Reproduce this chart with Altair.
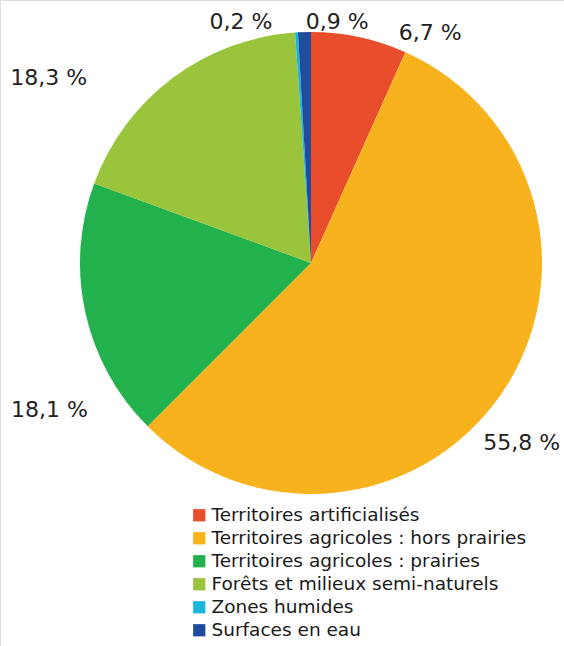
import math
import altair as alt
import pandas as pd

categories = [
    "Territoires artificialisés",
    "Territoires agricoles : hors prairies",
    "Territoires agricoles : prairies",
    "Forêts et milieux semi-naturels",
    "Zones humides",
    "Surfaces en eau",
]
shares = [6.7, 55.8, 18.1, 18.3, 0.2, 0.9]
labels = ["6,7 %", "55,8 %", "18,1 %", "18,3 %", "0,2 %", "0,9 %"]
colors = ["#E84E2C", "#F8B21E", "#22B14C", "#9AC43C", "#1DB6D9", "#1F4C9C"]

# label layout (polar, around pie centre): angle in degrees, distance in px
label_angle_deg = [27.4, 130.5, 240.7, 305.2, 343.8, 6.2]
label_dist = [259, 277, 300, 321, 251, 242]

df = pd.DataFrame({"cat": categories, "share": shares, "order": range(len(categories))})
lab = pd.DataFrame({
    "label": labels,
    "ang": [math.radians(a) for a in label_angle_deg],
    "dist": label_dist,
})

CX, CY, R = 311, 263, 231

pie = alt.Chart(df).mark_arc(outerRadius=R, innerRadius=0).encode(
    theta=alt.Theta("share:Q", stack=True),
    order=alt.Order("order:Q"),
    color=alt.Color(
        "cat:N",
        sort=categories,
        scale=alt.Scale(domain=categories, range=colors),
        legend=alt.Legend(
            title=None,
            orient="none",
            legendX=190,
            legendY=506,
            symbolType="square",
            symbolSize=150,
            symbolStrokeWidth=0,
            labelFont="DejaVu Sans",
            labelFontSize=18.5,
            labelColor="#1a1a1a",
            labelOffset=3,
            rowPadding=4,
            labelLimit=400,
        ),
    ),
    x=alt.value(CX),
    y=alt.value(CY),
)

text = alt.Chart(lab).mark_text(
    font="DejaVu Sans", fontSize=22, color="#222222", align="center", baseline="middle"
).encode(
    theta=alt.Theta("ang:Q", scale=None, stack=False),
    radius=alt.Radius("dist:Q", scale=None),
    text="label:N",
    x=alt.value(CX),
    y=alt.value(CY),
)

chart = alt.layer(pie, text).properties(
    width=564, height=646, autosize=alt.AutoSizeParams(type="none"), padding=0
).configure_view(stroke=None, strokeWidth=0).configure(background="white")

chart.save("out.html", embed_options={"renderer": "svg", "actions": False})
